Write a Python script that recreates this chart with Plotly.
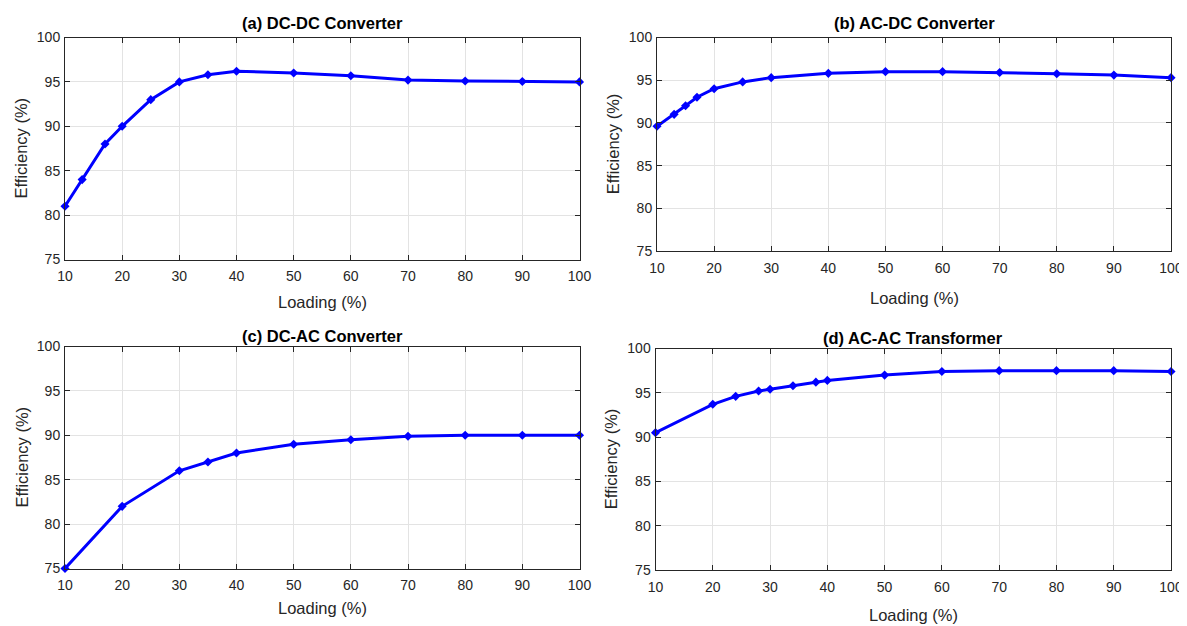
import plotly.graph_objects as go

# ---- data ----
a_x = [10, 13, 17, 20, 25, 30, 35, 40, 50, 60, 70, 80, 90, 100]
a_y = [81, 84, 88, 90, 93, 95, 95.8, 96.2, 96, 95.7, 95.2, 95.1, 95.05, 95.0]

b_x = [10, 13, 15, 17, 20, 25, 30, 40, 50, 60, 70, 80, 90, 100]
b_y = [89.6, 91, 92, 93, 94, 94.8, 95.3, 95.8, 96, 96, 95.9, 95.75, 95.6, 95.3]

c_x = [10, 20, 30, 35, 40, 50, 60, 70, 80, 90, 100]
c_y = [75, 82, 86, 87, 88, 89, 89.5, 89.9, 90, 90, 90]

d_x = [10, 20, 24, 28, 30, 34, 38, 40, 50, 60, 70, 80, 90, 100]
d_y = [90.5, 93.7, 94.6, 95.2, 95.4, 95.8, 96.2, 96.4, 97, 97.4, 97.5, 97.5, 97.5, 97.4]

titles = ["(a) DC-DC Converter", "(b) AC-DC Converter",
          "(c) DC-AC Converter", "(d) AC-AC Transformer"]
x_title = "Loading (%)"
y_title = "Efficiency (%)"
x_ticks = [10, 20, 30, 40, 50, 60, 70, 80, 90, 100]
y_ticks = [75, 80, 85, 90, 95, 100]

# the page body has an 8px margin, so the figure is drawn 8px in from the window edge
OFF = 8
W, H = 1187 - OFF, 626 - OFF
# plot rectangles in window pixels: (left, top, right, bottom)
rects = [(65, 37.5, 579.5, 259.5),
         (657, 37.5, 1171, 251),
         (65, 346.5, 579.5, 568.5),
         (655.5, 348.5, 1171, 570)]
# text positions in window pixels: title centre y, x-title centre y, y-title centre x
title_y = [23, 23, 336, 338]
xlab_y = [302, 298, 607.5, 615]
ylab_x = [21, 613, 21, 611]
series = [(a_x, a_y), (b_x, b_y), (c_x, c_y), (d_x, d_y)]


def px(x):
    return (x - OFF) / W


def py(y):
    return 1 - (y - OFF) / H


FONT = "Liberation Sans, Arial, sans-serif"
TXT = "#262626"
fig = go.Figure()
annotations = []
for i, ((xs, ys), (l, t, r, b), title) in enumerate(zip(series, rects, titles)):
    n = "" if i == 0 else str(i + 1)
    fig.add_trace(go.Scatter(
        x=xs, y=ys, mode="lines+markers",
        line=dict(color="#0000ff", width=3),
        marker=dict(symbol="diamond", size=7, color="#0000ff"),
        xaxis="x" + n, yaxis="y" + n, showlegend=False, cliponaxis=False))
    common = dict(showline=True, linecolor=TXT, linewidth=1, mirror="ticks",
                  ticks="inside", ticklen=5, tickcolor=TXT, automargin=False,
                  showgrid=True, gridcolor="#e3e3e3", gridwidth=1, zeroline=False,
                  tickfont=dict(family=FONT, size=14, color=TXT))
    fig.layout["xaxis" + n] = dict(
        common, domain=[px(l), px(r)], anchor="y" + n, range=[10, 100],
        tickvals=x_ticks, ticklabelstandoff=4)
    fig.layout["yaxis" + n] = dict(
        common, domain=[py(b), py(t)], anchor="x" + n, range=[75, 100],
        tickvals=y_ticks, ticklabelstandoff=1)
    annotations.append(dict(
        text="<b>" + title + "</b>", x=px((l + r) / 2), y=py(title_y[i]),
        xref="paper", yref="paper", xanchor="center", yanchor="middle",
        showarrow=False, font=dict(family=FONT, size=16.5, color="black")))
    annotations.append(dict(
        text=x_title, x=px((l + r) / 2), y=py(xlab_y[i]),
        xref="paper", yref="paper", xanchor="center", yanchor="middle",
        showarrow=False, font=dict(family=FONT, size=16.5, color=TXT)))
    annotations.append(dict(
        text=y_title, x=px(ylab_x[i]), y=py((t + b) / 2), textangle=-90,
        xref="paper", yref="paper", xanchor="center", yanchor="middle",
        showarrow=False, font=dict(family=FONT, size=16.5, color=TXT)))

fig.update_layout(width=W, height=H, margin=dict(l=0, r=0, t=0, b=0),
                  paper_bgcolor="white", plot_bgcolor="white",
                  annotations=annotations)
fig.write_html("out.html")
